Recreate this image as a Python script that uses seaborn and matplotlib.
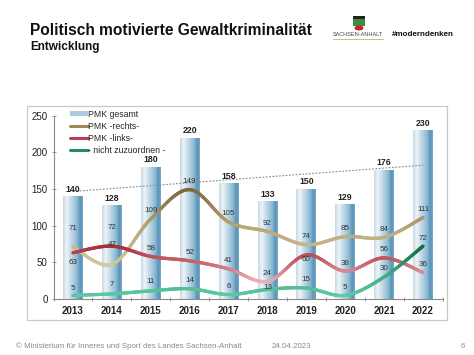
import numpy as np
import pandas as pd
import matplotlib
matplotlib.use("Agg")
import matplotlib.pyplot as plt
import seaborn as sns
from matplotlib.path import Path
from matplotlib.collections import LineCollection
from matplotlib.colors import LinearSegmentedColormap, Normalize
from matplotlib.patches import Rectangle, Patch, Ellipse
from matplotlib.lines import Line2D

# ---------------- data ----------------
years = ["2013", "2014", "2015", "2016", "2017", "2018", "2019", "2020", "2021", "2022"]
pmk_gesamt = [140, 128, 180, 220, 158, 133, 150, 129, 176, 230]
pmk_rechts = [71, 47, 109, 149, 105, 92, 74, 85, 84, 111]
pmk_links = [63, 72, 58, 52, 41, 24, 60, 38, 56, 36]
nicht_zuzuordnen = [5, 7, 11, 14, 6, 13, 15, 5, 30, 72]
y_ticks = [0, 50, 100, 150, 200, 250]

# label offsets (pixels above point) - style only
rechts_off = [18, 20, 8, 8, 8, 8, 8, 8, 8, 8]
links_off = [-10, 19, 8, 8, 8, 8, -5, 8, 8, 8]
nicht_off = [7, 9, 9, 8, 8, 2, 8, 8, 8, 8]

sns.set_theme(style="white")
plt.rcParams["font.family"] = ["Liberation Sans", "DejaVu Sans"]

W, H = 474, 355
fig = plt.figure(figsize=(W / 100, H / 100), dpi=100)
fig.patch.set_facecolor("white")

# chart frame
fig.add_artist(Rectangle((27 / W, 1 - 320 / H), 420 / W, 214 / H, transform=fig.transFigure,
                         fill=False, edgecolor="#c8c8c8", lw=0.9))

ax = fig.add_axes([53.5 / W, 1 - 299 / H, 389 / W, 183.5 / H])
ax.set_facecolor("none")

df = pd.DataFrame({"Jahr": years, "PMK gesamt": pmk_gesamt})
sns.barplot(data=df, x="Jahr", y="PMK gesamt", ax=ax, width=0.51, color="#9cc3da",
            saturation=1, zorder=2)

bar_cmap = LinearSegmentedColormap.from_list(
    "bar", [(0, "#c3d7e4"), (0.18, "#eef4f8"), (0.7, "#8dbad4"), (0.88, "#5893b8"), (1, "#7aaac8")])
grad = np.linspace(0, 1, 256).reshape(1, -1)
for p in list(ax.patches):
    x0, y0 = p.get_x(), p.get_y()
    w, h = p.get_width(), p.get_height()
    im = ax.imshow(grad, cmap=bar_cmap, extent=[x0, x0 + w, y0, y0 + h], aspect="auto",
                   zorder=2.1, interpolation="bilinear")
    im.set_clip_path(p)
    ax.annotate(f"{int(round(h))}", (x0 + w / 2, y0 + h), xytext=(0, 1.8), textcoords="offset points",
                ha="center", va="bottom", fontsize=6.3, fontweight="bold", color="#222222", zorder=6)

# trend line
sns.regplot(x=np.arange(len(years)), y=np.array(pmk_gesamt), ci=None, scatter=False, truncate=True,
            ax=ax, line_kws=dict(color="#8c8c8c", lw=0.8, ls=(0, (1.6, 1.4)), zorder=3))


def smooth_line(values, cmap, lw=2.4):
    xs = np.arange(len(values), dtype=float)
    pts = np.column_stack([xs, np.asarray(values, dtype=float)])
    ext = np.vstack([pts[0], pts, pts[-1]])
    verts = [pts[0]]
    codes = [Path.MOVETO]
    for i in range(len(pts) - 1):
        p0, p1, p2, p3 = ext[i], ext[i + 1], ext[i + 2], ext[i + 3]
        verts += [p1 + (p2 - p0) / 6, p2 - (p3 - p1) / 6, p2]
        codes += [Path.CURVE4] * 3
    path = Path(np.array(verts), codes)
    t = np.linspace(0, 1, 30)
    samples = [seg(t) for seg, code in path.iter_bezier(simplify=False) if code != Path.MOVETO]
    curve = np.vstack(samples)
    segs = np.stack([curve[:-1], curve[1:]], axis=1)
    mids = (curve[:-1, 1] + curve[1:, 1]) / 2
    norm = Normalize(min(values), max(values))
    lc = LineCollection(segs, colors=cmap(norm(mids)), linewidths=lw, capstyle="round",
                        joinstyle="round", zorder=4)
    ax.add_collection(lc)


rechts_cmap = LinearSegmentedColormap.from_list("r", ["#d3c7a0", "#b9a677", "#7c6a3f"])
links_cmap = LinearSegmentedColormap.from_list("l", ["#eab0b6", "#cc6a75", "#a52f3b"])
nicht_cmap = LinearSegmentedColormap.from_list("n", ["#5ccaa0", "#3aa57a", "#1b6a47"])

smooth_line(pmk_rechts, rechts_cmap)
smooth_line(pmk_links, links_cmap)
smooth_line(nicht_zuzuordnen, nicht_cmap)

for series, offs in [(pmk_rechts, rechts_off), (pmk_links, links_off), (nicht_zuzuordnen, nicht_off)]:
    for i, v in enumerate(series):
        ax.annotate(str(v), (i, v), xytext=(0, offs[i] * 0.72), textcoords="offset points",
                    ha="center", va="center", fontsize=5.8, color="#333333", zorder=6)

ax.set_xlim(-0.5, len(years) - 0.5)
ax.set_ylim(0, 250)
ax.set_yticks(y_ticks)
ax.set_xticks(range(len(years)))
ax.set_xticklabels(years)
ax.set_xticks(np.arange(-0.5, len(years), 1), minor=True)
ax.set_xlabel("")
ax.set_ylabel("")
for s in ["top", "right"]:
    ax.spines[s].set_visible(False)
for s in ["left", "bottom"]:
    ax.spines[s].set_color("#8a8a8a")
    ax.spines[s].set_linewidth(0.8)
ax.tick_params(axis="y", left=True, length=3.5, width=0.6, color="#8a8a8a", direction="inout",
               labelsize=7, pad=2.5, labelcolor="#222222")
ax.tick_params(axis="x", which="major", bottom=True, length=0, labelsize=7, pad=5, labelcolor="#222222")
ax.tick_params(axis="x", which="minor", bottom=True, length=3, width=0.6, color="#8a8a8a", direction="inout")
for lab in ax.get_xticklabels():
    lab.set_fontweight("bold")

handles = [
    Patch(facecolor="#a9cbe0", edgecolor="none"),
    Line2D([], [], color="#9e8a55", lw=2.2),
    Line2D([], [], color="#b9404c", lw=2.2),
    Line2D([], [], color="#2a8a60", lw=2.2),
]
labels = ["PMK gesamt", "PMK -rechts-", "PMK -links-", "- nicht zuzuordnen -"]
fig.legend(handles, labels, loc="upper left", bbox_to_anchor=(70 / W, 1 - 110 / H), frameon=False,
           fontsize=6.3, handlelength=2.0, handleheight=0.5, handletextpad=0.1, labelspacing=0.33,
           borderpad=0, borderaxespad=0)

# header
fig.text(30 / W, 1 - 35 / H, "Politisch motivierte Gewaltkriminalität", fontsize=11.2,
         fontweight="bold", color="#111111", va="baseline")
fig.text(30 / W, 1 - 50 / H, "Entwicklung", fontsize=8.5, fontweight="bold", color="#111111",
         va="baseline")

# logo
fig.add_artist(Rectangle((353 / W, 1 - 19 / H), 12 / W, 3 / H, transform=fig.transFigure,
                         facecolor="#222222", edgecolor="none"))
fig.add_artist(Rectangle((353 / W, 1 - 26 / H), 12 / W, 7 / H, transform=fig.transFigure,
                         facecolor="#3d8c3a", edgecolor="none"))
fig.add_artist(Ellipse((359 / W, 1 - 28 / H), 9 / W, 5 / H, transform=fig.transFigure,
                       facecolor="#c8202f", edgecolor="none"))
fig.text(333 / W, 1 - 36 / H, "SACHSEN-ANHALT", fontsize=4.0, color="#444444", va="baseline")
fig.add_artist(Line2D([333 / W, 383 / W], [1 - 39 / H, 1 - 39 / H], transform=fig.transFigure,
                      color="#b8c96a", lw=0.7))
fig.text(392 / W, 1 - 36 / H, "#moderndenken", fontsize=5.8, fontweight="bold", color="#111111",
         va="baseline")

# footer
fig.text(16 / W, 1 - 348 / H, "© Ministerium für Inneres und Sport des Landes Sachsen-Anhalt",
         fontsize=5.7, color="#8a8a8a", va="baseline")
fig.text(272 / W, 1 - 348 / H, "24.04.2023", fontsize=5.7, color="#8a8a8a", va="baseline")
fig.text(461 / W, 1 - 348 / H, "6", fontsize=5.7, color="#8a8a8a", va="baseline")

fig.savefig("out.png", dpi=100, facecolor="white")
